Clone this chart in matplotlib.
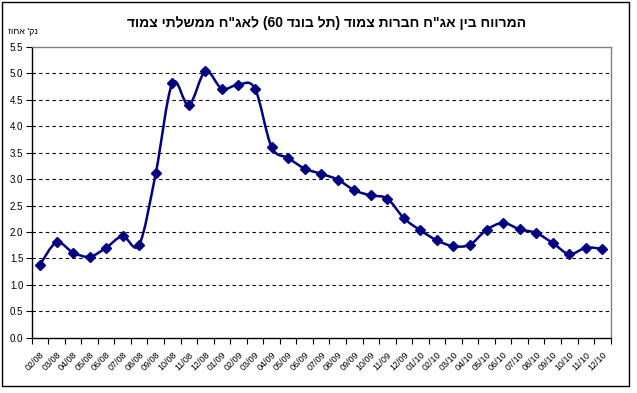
import matplotlib
matplotlib.use("Agg")
import matplotlib.pyplot as plt
from matplotlib.path import Path
from matplotlib.patches import PathPatch, Rectangle
from matplotlib.transforms import ScaledTranslation
import numpy as np

plt.rcParams['font.family'] = ['Liberation Sans', 'DejaVu Sans']

title_logical = 'המרווח בין אג"ח חברות צמוד (תל בונד 60) לאג"ח ממשלתי צמוד'
ylabel_logical = "נק' אחוז"

months = ["02/08", "03/08", "04/08", "05/08", "06/08", "07/08", "08/08", "09/08",
          "10/08", "11/08", "12/08",
          "01/09", "02/09", "03/09", "04/09", "05/09", "06/09", "07/09", "08/09",
          "09/09", "10/09", "11/09", "12/09",
          "01/10", "02/10", "03/10", "04/10", "05/10", "06/10", "07/10", "08/10",
          "09/10", "10/10", "11/10", "12/10"]
spread = [1.38, 1.80, 1.61, 1.53, 1.70, 1.92, 1.76, 3.11, 4.81, 4.40, 5.04,
          4.71, 4.79, 4.71, 3.61, 3.40, 3.20, 3.10, 2.99, 2.79, 2.69, 2.63, 2.26,
          2.03, 1.84, 1.73, 1.76, 2.04, 2.17, 2.05, 1.98, 1.79, 1.58, 1.70, 1.68]
yticks = [0.0, 0.5, 1.0, 1.5, 2.0, 2.5, 3.0, 3.5, 4.0, 4.5, 5.0, 5.5]


def visual(s):
    """Convert logical RTL Hebrew string into visual (left-to-right) order."""
    r = s[::-1]
    mirror = {'(': ')', ')': '('}
    r = ''.join(mirror.get(c, c) for c in r)
    out, i = [], 0
    while i < len(r):
        if r[i].isdigit():
            j = i
            while j < len(r) and r[j].isdigit():
                j += 1
            out.append(r[i:j][::-1])
            i = j
        else:
            out.append(r[i])
            i += 1
    return ''.join(out)


W, H = 637, 393
fig = plt.figure(figsize=(W / 100, H / 100), dpi=100)
fig.patch.set_facecolor('white')

# outer chart border
fig.patches.append(Rectangle((2 / W, 1 - 386 / H), 627 / W, 384 / H,
                             transform=fig.transFigure, fill=False,
                             edgecolor='black', linewidth=1.0))

ax = fig.add_axes([31.7 / W, 1 - 337.6 / H, (610.6 - 31.7) / W, (337.6 - 47) / H])

x = np.arange(len(spread))
y = np.array(spread, dtype=float)

# smooth line (Catmull-Rom style Bezier through the data points)
verts = [(x[0], y[0])]
codes = [Path.MOVETO]
n = len(x)
for i in range(n - 1):
    p0 = np.array([x[max(i - 1, 0)], y[max(i - 1, 0)]])
    p1 = np.array([x[i], y[i]])
    p2 = np.array([x[i + 1], y[i + 1]])
    p3 = np.array([x[min(i + 2, n - 1)], y[min(i + 2, n - 1)]])
    c1 = p1 + (p2 - p0) / 6.0
    c2 = p2 - (p3 - p1) / 6.0
    verts += [tuple(c1), tuple(c2), tuple(p2)]
    codes += [Path.CURVE4] * 3
ax.add_patch(PathPatch(Path(verts, codes), facecolor='none',
                       edgecolor='#000080', linewidth=1.8, zorder=3))
ax.plot(x, y, linestyle='none', marker='D', markersize=5.5,
        color='#000080', zorder=4)

ax.set_xlim(-0.5, len(spread) - 0.5)
ax.set_ylim(0, 5.5)

ax.set_yticks(yticks)
ax.set_yticklabels([f"{v:.1f}" for v in yticks], fontsize=7)
for v in yticks[1:-1]:
    ax.axhline(v, color='black', linewidth=0.8, linestyle=(0, (3, 3)), zorder=1)

ax.set_xticks(x)
ax.set_xticklabels(months, rotation=45, ha='right', va='top',
                   rotation_mode='anchor', fontsize=6.5)
shift = ScaledTranslation(-8 / 100, 0, fig.dpi_scale_trans)
for lbl in ax.get_xticklabels():
    lbl.set_transform(lbl.get_transform() + shift)
ax.set_xticks(np.arange(len(spread) + 1) - 0.5, minor=True)
ax.tick_params(axis='x', which='major', length=0, pad=9)
ax.tick_params(axis='x', which='minor', length=4, direction='out', width=0.8)
ax.tick_params(axis='y', length=4, direction='out', width=0.8, pad=2)

for side in ['left', 'bottom']:
    ax.spines[side].set_color('black')
    ax.spines[side].set_linewidth(1.0)
for side in ['top', 'right']:
    ax.spines[side].set_color('#808080')
    ax.spines[side].set_linewidth(1.0)

fig.text(327 / W, 1 - 23 / H, visual(title_logical), ha='center', va='center',
         fontsize=10, fontweight='bold')
fig.text(8 / W, 1 - 31 / H, visual(ylabel_logical), ha='left', va='center',
         fontsize=6.5)

fig.savefig('out.png', dpi=100, facecolor='white')
